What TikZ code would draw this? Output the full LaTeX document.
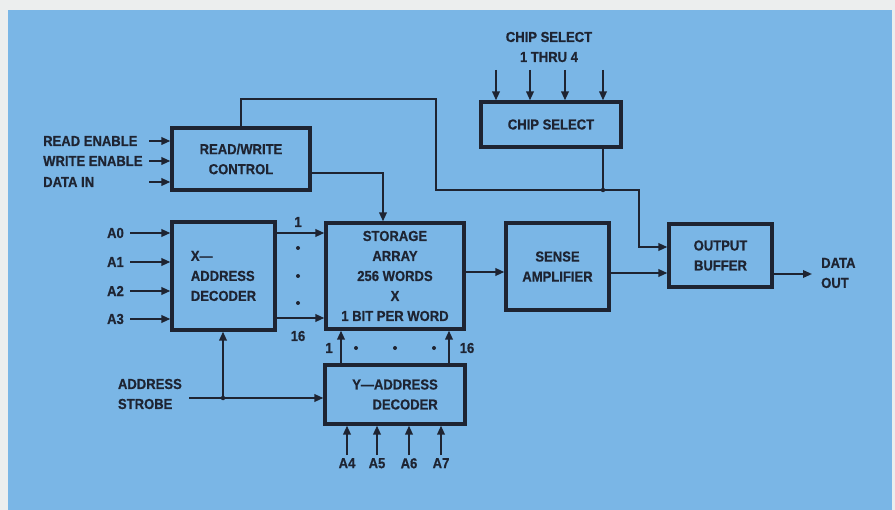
\documentclass[tikz,border=0pt]{standalone}
\usepackage{fontspec}
\setmainfont{Liberation Sans}[FakeStretch=0.9, BoldFeatures={FakeBold=0.6}]
\usetikzlibrary{arrows.meta}
\definecolor{bg}{RGB}{122,182,230}
\definecolor{ink}{RGB}{30,36,50}
\definecolor{paper}{RGB}{236,238,238}
\begin{document}
\begin{tikzpicture}[x=1bp,y=-1bp,
  every node/.style={font=\bfseries\fontsize{14.5bp}{20bp}\selectfont, text=ink},
  blk/.style={draw=ink, line width=3.2bp, inner sep=0pt},
  conn/.style={draw=ink, line width=1.9bp},
  arr/.style={conn, -{Triangle[length=9bp,width=7.5bp]}},
  lbl/.style={inner sep=0pt},
  dotm/.style={fill=ink, circle, inner sep=0pt, minimum size=4.5bp}
]
\useasboundingbox (0,0) rectangle (895,510);
\fill[paper] (0,0) rectangle (895,510);
\fill[bg] (8,10) rectangle (892,510);

% blocks
\node[blk, minimum width=138bp, minimum height=62bp, align=center] (rw) at (241,159) {READ/WRITE\\CONTROL};
\node[blk, minimum width=140bp, minimum height=45bp] (cs) at (551,124.5) {CHIP SELECT};
\node[blk, minimum width=103bp, minimum height=108bp, align=left] (xd) at (223.5,276) {X—\\ADDRESS\\DECODER};
\node[blk, minimum width=138bp, minimum height=106bp, align=center] (sa) at (395,276) {STORAGE\\ARRAY\\256 WORDS\\X\\1 BIT PER WORD};
\node[blk, minimum width=103bp, minimum height=87bp, align=center] (sense) at (557.5,266.5) {SENSE\\AMPLIFIER};
\node[blk, minimum width=103bp, minimum height=63bp, align=center] (ob) at (720.5,255.5) {OUTPUT\\BUFFER};
\node[blk, minimum width=140bp, minimum height=59bp, align=right] (yd) at (395,394.5) {Y—ADDRESS\\DECODER};

% read/write inputs
\coordinate (re) at (149,141);
\coordinate (we) at (149,161);
\coordinate (di) at (149,182);
\node[lbl, anchor=west] (lre) at (43,141) {READ ENABLE};
\node[lbl, anchor=west] (lwe) at (43,161) {WRITE ENABLE};
\node[lbl, anchor=west] (ldi) at (43,182) {DATA IN};
\draw[arr] (re) -- (re -| rw.west);
\draw[arr] (we) -- (we -| rw.west);
\draw[arr] (di) -- (di -| rw.west);

% chip select inputs
\node[lbl, align=center] (lcs) at (549,47) {CHIP SELECT\\1 THRU 4};
\foreach \x/\n in {496/1,530/2,565/3,603/4}{
  \coordinate (cs\n) at (\x,70);
  \draw[arr] (cs\n) -- (cs\n |- cs.north);
}

% enable path: read/write control and chip select to output buffer
\coordinate (t1) at (436,99);
\coordinate (j1) at (603,190);
\coordinate (c1) at (639,247);
\draw[arr] (rw.north) |- (t1) |- (j1) -| (c1) -- (c1 -| ob.west);
\draw[conn] (cs.south -| j1) -- (j1);
\node[dotm] (dj1) at (j1) {};

% read/write control to storage array
\coordinate (rwx) at (383,173);
\draw[arr] (rw.east |- rwx) -| (sa.north -| rwx);

% address inputs A0-A3
\foreach \y/\n in {233/0,262/1,291/2,319/3}{
  \coordinate (a\n) at (130,\y);
  \node[lbl, anchor=east] (la\n) at (124,\y) {A\n};
  \draw[arr] (a\n) -- (a\n -| xd.west);
}

% x decoder outputs
\coordinate (xo1) at (298,233);
\coordinate (xo16) at (298,318);
\draw[arr] (xd.east |- xo1) -- (sa.west |- xo1);
\draw[arr] (xd.east |- xo16) -- (sa.west |- xo16);
\node[lbl] (lx1) at (298,222) {1};
\node[lbl] (lx16) at (298,336) {16};
\foreach \y/\n in {248/1,276/2,303/3}{
  \node[dotm, minimum size=4bp] (xdot\n) at (298,\y) {};
}

% storage -> sense -> output buffer -> out
\coordinate (so) at (485,272);
\draw[arr] (sa.east |- so) -- (sense.west |- so);
\coordinate (bo) at (640,273);
\draw[arr] (sense.east |- bo) -- (ob.west |- bo);
\coordinate (dout) at (812,274);
\draw[arr] (ob.east |- dout) -- (dout);
\node[lbl, anchor=west, align=left] (ldout) at (821,273) {DATA\\OUT};

% y decoder outputs
\coordinate (y1) at (341,348);
\coordinate (y16) at (449,348);
\draw[arr] (yd.north -| y1) -- (sa.south -| y1);
\draw[arr] (yd.north -| y16) -- (sa.south -| y16);
\node[lbl] (ly1) at (329,348) {1};
\node[lbl] (ly16) at (467,348) {16};
\foreach \x/\n in {356/1,395/2,434/3}{
  \node[dotm, minimum size=4bp] (ydot\n) at (\x,348) {};
}

% address inputs A4-A7
\foreach \x/\n in {347/4,377/5,409/6,441/7}{
  \coordinate (a\n) at (\x,455);
  \node[lbl, anchor=north] (la\n) at (\x,458) {A\n};
  \draw[arr] (a\n) -- (a\n |- yd.south);
}

% address strobe
\node[lbl, anchor=east, align=left] (las) at (182,394) {ADDRESS\\STROBE};
\coordinate (as) at (189,398);
\coordinate (j2) at (223,398);
\draw[arr] (as) -- (as -| yd.west);
\draw[arr] (j2) -- (j2 |- xd.south);
\node[dotm] (dj2) at (j2) {};
\end{tikzpicture}
\end{document}
